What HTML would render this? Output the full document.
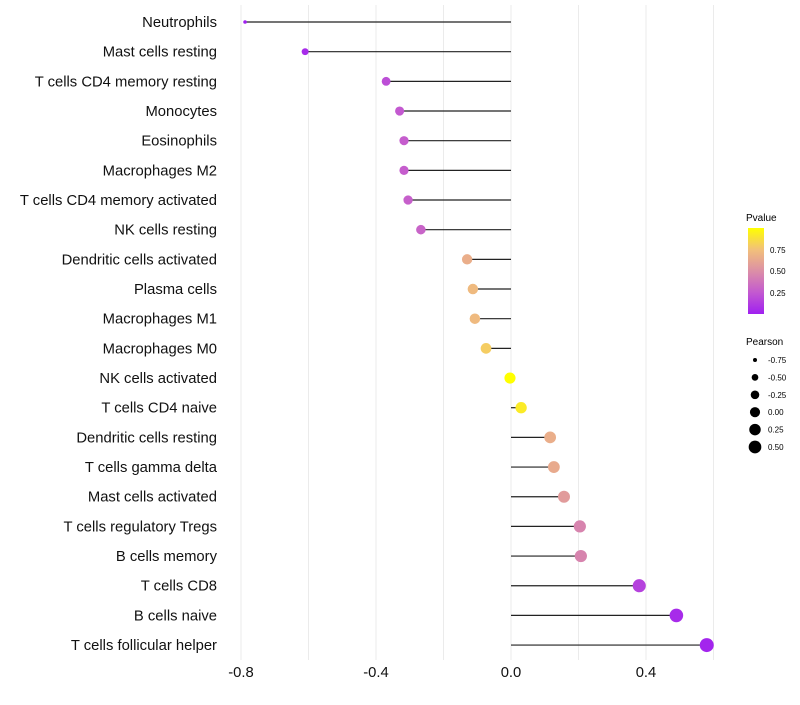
<!DOCTYPE html>
<html><head><meta charset="utf-8"><style>
body{margin:0;background:#fff;font-family:"Liberation Sans",sans-serif}
</style></head><body>
<svg id="chart" width="800" height="700" xmlns="http://www.w3.org/2000/svg" font-family="Liberation Sans, sans-serif">
<defs><linearGradient id="pg" x1="0" y1="1" x2="0" y2="0">
<stop offset="0" stop-color="#a020f0"/><stop offset="0.25" stop-color="#c359d0"/><stop offset="0.5" stop-color="#dc8fa6"/><stop offset="0.75" stop-color="#f2c07a"/><stop offset="1" stop-color="#ffff00"/></linearGradient></defs>
<g id="grid"></g><g id="marks"></g><g id="ylab"></g><g id="xlab"></g>
<g>
<text x="746" y="221" font-size="10">Pvalue</text>
<rect x="748" y="228" width="16" height="86" fill="url(#pg)"/>
<text x="770" y="253" font-size="8">0.75</text>
<text x="770" y="274" font-size="8">0.50</text>
<text x="770" y="296" font-size="8">0.25</text>
</g>
<g id="legsize">
<text x="746" y="345" font-size="10">Pearson</text>
</g>
</svg>
<script>
const cells=["Neutrophils","Mast cells resting","T cells CD4 memory resting","Monocytes","Eosinophils","Macrophages M2","T cells CD4 memory activated","NK cells resting","Dendritic cells activated","Plasma cells","Macrophages M1","Macrophages M0","NK cells activated","T cells CD4 naive","Dendritic cells resting","T cells gamma delta","Mast cells activated","T cells regulatory  Tregs ","B cells memory","T cells CD8","B cells naive","T cells follicular helper"];
const pearson=[-0.788,-0.61,-0.37,-0.33,-0.317,-0.317,-0.305,-0.267,-0.13,-0.113,-0.107,-0.074,-0.003,0.03,0.116,0.127,0.157,0.204,0.207,0.38,0.49,0.58];
const pvalue=[0.0,0.05,0.2,0.25,0.27,0.27,0.28,0.3,0.66,0.72,0.72,0.8,1.0,0.92,0.66,0.64,0.56,0.45,0.45,0.15,0.05,0.02];
const xticks=[-0.8,-0.4,0.0,0.4];
const xminor=[-0.6,-0.2,0.2,0.6];
const sizeLegend=[-0.75,-0.5,-0.25,0,0.25,0.5];
const NS="http://www.w3.org/2000/svg";
const X=v=>511+v*337.5;
const Y=i=>22+i*29.67;
const R=v=>v<-0.75?1.8:Math.sqrt(Math.max(3,31+31.1*v));
const RL=v=>Math.sqrt(Math.max(1,25.6+28.8*v));
const stops=[[0,[160,32,240]],[0.25,[195,89,208]],[0.5,[220,143,166]],[0.75,[242,192,122]],[1,[255,255,0]]];
function col(p){for(let i=0;i<stops.length-1;i++){const a=stops[i],b=stops[i+1];if(p<=b[0]){const t=(p-a[0])/(b[0]-a[0]);return "rgb("+a[1].map((c,k)=>Math.round(c+(b[1][k]-c)*t)).join(",")+")";}}return "rgb(255,255,0)";}
function mk(tag,at,par){const e=document.createElementNS(NS,tag);for(const k in at)e.setAttribute(k,at[k]);document.getElementById(par).appendChild(e);return e;}
xticks.concat(xminor).forEach(v=>{const l=mk("line",{x1:X(v),x2:X(v),y1:5,y2:660,stroke:"#ebebeb","stroke-width":1},"grid");

});
cells.forEach((c,i)=>{const l=mk("line",{x1:X(0),x2:X(pearson[i]),y1:Y(i),y2:Y(i),stroke:"#222","stroke-width":1.2},"marks");


const p=mk("circle",{cx:X(pearson[i]),cy:Y(i),r:R(pearson[i]),fill:col(pvalue[i])},"marks");


const t=mk("text",{x:217,y:Y(i)+5,"text-anchor":"end","font-size":14.8,fill:"#111"},"ylab");t.textContent=c;

});
xticks.forEach(v=>{const t=mk("text",{x:X(v),y:677,"text-anchor":"middle","font-size":14.8,fill:"#111"},"xlab");t.textContent=v.toFixed(1);

});
sizeLegend.forEach((v,i)=>{const y=360+i*17.4;const c=mk("circle",{cx:755,cy:y,r:RL(v),fill:"#000"},"legsize");


const t=mk("text",{x:768,y:y+3,"font-size":8},"legsize");t.textContent=v.toFixed(2);

});
</script>
</body></html>
